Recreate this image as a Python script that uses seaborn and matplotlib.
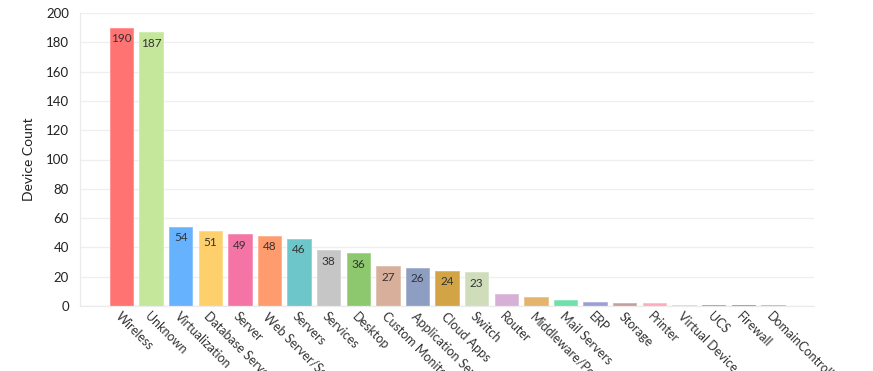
import pandas as pd
import matplotlib.pyplot as plt
import matplotlib.colors as mcolors
import seaborn as sns

categories = [
    "Wireless", "Unknown", "Virtualization", "Database Servers", "Server",
    "Web Server/Services", "Servers", "Services", "Desktop", "Custom Monitors",
    "Application Servers", "Cloud Apps", "Switch", "Router", "Middleware/Portal",
    "Mail Servers", "ERP", "Storage", "Printer", "Virtual Device", "UCS",
    "Firewall", "DomainControllers",
]
device_counts = [190, 187, 54, 51, 49, 48, 46, 38, 36, 27, 26, 24, 23,
                 8, 6, 4, 3, 2, 2, 1, 1, 1, 1]
bar_colors = [
    "#FF7373", "#C5E79B", "#66B2FF", "#FDD06C", "#F474A6", "#FF9C6E",
    "#6DC6CA", "#C6C6C6", "#8DC86F", "#D8AF9B", "#8E9EC2", "#D2A445",
    "#CFDDBA", "#D6B0D5", "#E5B46C", "#6FE0A9", "#9E9ED6", "#C4A09D",
    "#FFABBB", "#BFDCDA", "#5B96BF", "#8A7486", "#DD8BD2",
]
y_ticks = [0, 20, 40, 60, 80, 100, 120, 140, 160, 180, 200]


def lighten(c, amt=0.2):
    r, g, b = mcolors.to_rgb(c)
    return (r + (1 - r) * amt, g + (1 - g) * amt, b + (1 - b) * amt)


def main():
    sns.set_theme(style="white")
    plt.rcParams["font.family"] = ["Lato", "DejaVu Sans"]

    df = pd.DataFrame({"category": categories, "count": device_counts})

    fig = plt.figure(figsize=(8.73, 3.71), dpi=100)
    ax = fig.add_axes([80 / 873, 1 - 306 / 371, (814 - 80) / 873, 293 / 371])

    sns.barplot(
        data=df, x="category", y="count", hue="category",
        palette=dict(zip(categories, bar_colors)), legend=False,
        width=0.79, linewidth=0, saturation=1, ax=ax,
    )
    # thin lighter outline around each bar
    for patch, col in zip(ax.patches, bar_colors):
        patch.set_edgecolor(lighten(col))
        patch.set_linewidth(0.6)

    # value labels inside the top of the bigger bars
    for patch, val in zip(ax.patches, device_counts):
        if val >= 20:
            ax.annotate(
                str(val),
                (patch.get_x() + patch.get_width() / 2, patch.get_height()),
                xytext=(0, -4), textcoords="offset points",
                ha="center", va="top", fontsize=8.5, color="#333333",
            )

    ax.set_ylim(0, 200)
    ax.set_xlim(-1.4, len(categories) - 1 + 1.39)
    ax.set_yticks(y_ticks)
    ax.grid(axis="y", color="#EFEFEF", linewidth=0.9)
    ax.set_axisbelow(True)

    for side in ["top", "right"]:
        ax.spines[side].set_visible(False)
    for side in ["left", "bottom"]:
        ax.spines[side].set_color("#EBEBEB")
        ax.spines[side].set_linewidth(0.9)

    ax.tick_params(axis="y", length=4, width=0.8, color="#E6E6E6",
                   labelsize=9.5, labelcolor="#222222", pad=4)
    ax.tick_params(axis="x", length=3, width=0.8, color="#E6E6E6",
                   labelsize=9, labelcolor="#333333", pad=0)
    ax.set_xticks(range(len(categories)))
    ax.set_xticklabels(categories, rotation=-45, ha="left", va="top",
                       rotation_mode="anchor")

    ax.set_xlabel("")
    ax.set_ylabel("Device Count", fontsize=10, color="#222222", labelpad=8)

    fig.savefig("out.png", dpi=100)
    plt.close(fig)


if __name__ == "__main__":
    main()
